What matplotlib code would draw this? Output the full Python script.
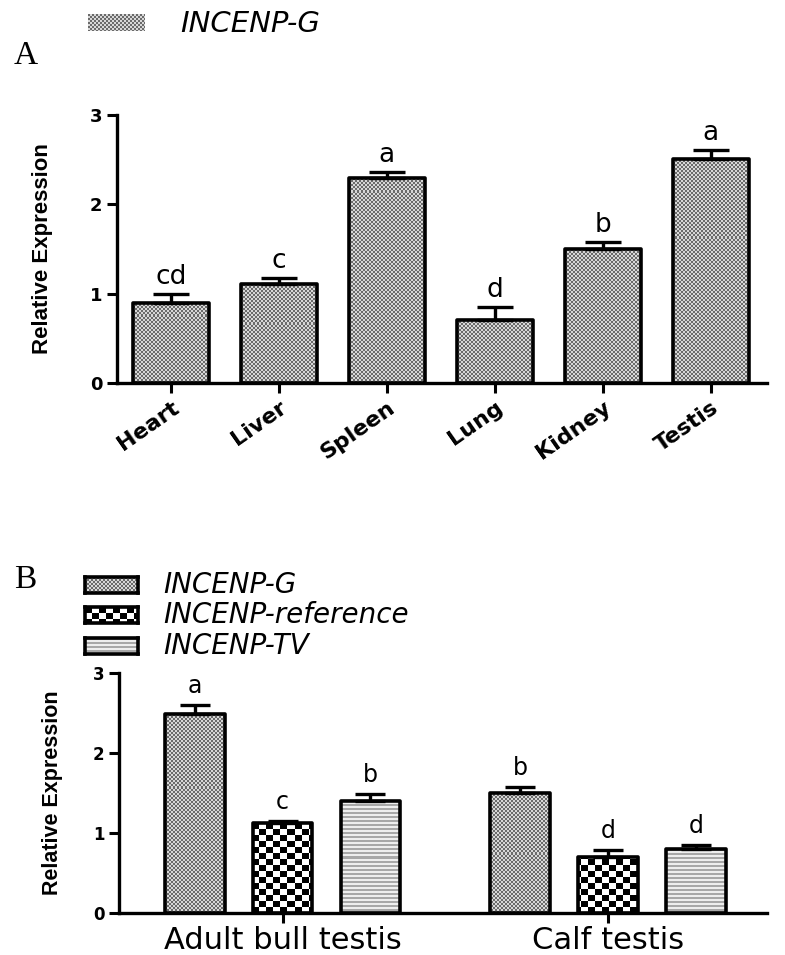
import numpy as np
import matplotlib
matplotlib.use("Agg")
import matplotlib.pyplot as plt

# panel A data
tissues = ['Heart', 'Liver', 'Spleen', 'Lung', 'Kidney', 'Testis']
expr_a = [0.90, 1.11, 2.30, 0.70, 1.50, 2.51]
err_a = [0.10, 0.06, 0.06, 0.15, 0.08, 0.10]
letters_a = ['cd', 'c', 'a', 'd', 'b', 'a']

# panel B data
groups = ['Adult bull testis', 'Calf testis']
series = ['INCENP-G', 'INCENP-reference', 'INCENP-TV']
expr_b = {'INCENP-G': [2.49, 1.50],
          'INCENP-reference': [1.12, 0.70],
          'INCENP-TV': [1.40, 0.80]}
err_b = {'INCENP-G': [0.11, 0.07],
         'INCENP-reference': [0.03, 0.09],
         'INCENP-TV': [0.09, 0.05]}
letters_b = {'INCENP-G': ['a', 'b'],
             'INCENP-reference': ['c', 'd'],
             'INCENP-TV': ['b', 'd']}

W, H = 785, 955
fig = plt.figure(figsize=(W / 100, H / 100), dpi=100)


def pattern(kind, h, w):
    # texture used inside the bars
    i, j = np.indices((h, w))
    if kind == 'INCENP-G':
        return np.where(((i // 2) + (j // 2)) % 2 == 0, 0.42, 0.84)
    if kind == 'INCENP-reference':
        return np.where(((i // 6) + (j // 7)) % 2 == 0, 0.0, 1.0)
    return np.where((i // 2) % 2 == 0, 0.66, 0.93)


def fill_bars(ax, bars, kind, xlim, ylim, wpx, hpx):
    img = pattern(kind, hpx, wpx)
    for b in bars:
        im = ax.imshow(img, extent=(xlim[0], xlim[1], ylim[0], ylim[1]),
                       cmap='gray', vmin=0, vmax=1, interpolation='nearest',
                       aspect='auto', zorder=1)
        im.set_clip_path(b)


def style_axis(ax):
    ax.spines[['top', 'right']].set_visible(False)
    for s in ['left', 'bottom']:
        ax.spines[s].set_linewidth(2.4)
    ax.tick_params(axis='y', direction='out', length=7.5, width=2.2, pad=3)
    ax.tick_params(axis='x', direction='out', length=7, width=2.2)


def legend_box(x0, y0, x1, y1, kind, border=True):
    lax = fig.add_axes([x0 / W, 1 - y1 / H, (x1 - x0) / W, (y1 - y0) / H])
    lax.imshow(pattern(kind, int(y1 - y0), int(x1 - x0)), cmap='gray',
               vmin=0, vmax=1, interpolation='nearest', aspect='auto')
    lax.set_xticks([])
    lax.set_yticks([])
    for s in lax.spines.values():
        s.set_visible(border)
        s.set_linewidth(2.6)


# ---------- panel A ----------
axA = fig.add_axes([117 / W, 1 - 383 / H, 650 / W, 268 / H])
xa = np.arange(len(tissues))
xlimA, ylimA = (-0.5, 5.52), (0, 3)
barsA = axA.bar(xa, expr_a, 0.7, facecolor='none', edgecolor='k',
                linewidth=2.6, joinstyle='round', zorder=3)
fill_bars(axA, barsA, 'INCENP-G', xlimA, ylimA, 650, 268)
axA.errorbar(xa, expr_a, yerr=[np.zeros(len(xa)), err_a], fmt='none',
             ecolor='k', elinewidth=2.4, capsize=13, capthick=2.4, zorder=4)
for x, v, e, t in zip(xa, expr_a, err_a, letters_a):
    axA.annotate(t, (x, v + e), xytext=(0, 3), textcoords='offset points',
                 ha='center', va='bottom', fontsize=19)
axA.set_xlim(*xlimA)
axA.set_ylim(*ylimA)
style_axis(axA)
axA.set_yticks([0, 1, 2, 3], ['0', '1', '2', '3'], fontsize=13, fontweight='bold')
axA.set_xticks(xa, tissues, rotation=35, ha='right', rotation_mode='anchor',
               fontsize=16, fontweight='bold')
axA.set_ylabel('Relative Expression', family='Liberation Sans', fontweight='bold',
               fontsize=16)
axA.yaxis.set_label_coords(-0.098, 0.5)

legend_box(88, 14, 145, 31, 'INCENP-G', border=False)
fig.text(180 / W, 1 - 24 / H, 'INCENP-G', style='italic', fontsize=21, va='center')
fig.text(14 / W, 1 - 56 / H, 'A', family='Liberation Serif', fontsize=24, va='center')

# ---------- panel B ----------
axB = fig.add_axes([119 / W, 1 - 913 / H, 648 / W, 240 / H])
centers = np.array([0, 3.7])
offsets = [-1, 0, 1]
xlimB, ylimB = (-1.86, 5.51), (0, 3)
for k, name in enumerate(series):
    xb = centers + offsets[k]
    bars = axB.bar(xb, expr_b[name], 0.68, facecolor='none', edgecolor='k',
                   linewidth=2.6, joinstyle='round', zorder=3)
    fill_bars(axB, bars, name, xlimB, ylimB, 648, 240)
    axB.errorbar(xb, expr_b[name], yerr=[np.zeros(2), err_b[name]], fmt='none',
                 ecolor='k', elinewidth=2.4, capsize=11, capthick=2.4, zorder=4)
    for x, v, e, t in zip(xb, expr_b[name], err_b[name], letters_b[name]):
        axB.annotate(t, (x, v + e), xytext=(0, 5), textcoords='offset points',
                     ha='center', va='bottom', fontsize=17)
axB.set_xlim(*xlimB)
axB.set_ylim(*ylimB)
style_axis(axB)
axB.set_yticks([0, 1, 2, 3], ['0', '1', '2', '3'], fontsize=12, fontweight='bold')
axB.set_xticks(centers, groups, fontsize=22)
axB.tick_params(axis='x', pad=2)
axB.set_ylabel('Relative Expression', family='Liberation Sans', fontweight='bold',
               fontsize=15.5)
axB.yaxis.set_label_coords(-0.086, 0.5)

for name, yc in zip(series, [585, 615, 646]):
    legend_box(85, yc - 8, 138, yc + 8, name)
    fig.text(163 / W, 1 - yc / H, name, style='italic', fontsize=20, va='center')
fig.text(14 / W, 1 - 580 / H, 'B', family='Liberation Serif', fontsize=24, va='center')

fig.savefig('out.png', dpi=100)
